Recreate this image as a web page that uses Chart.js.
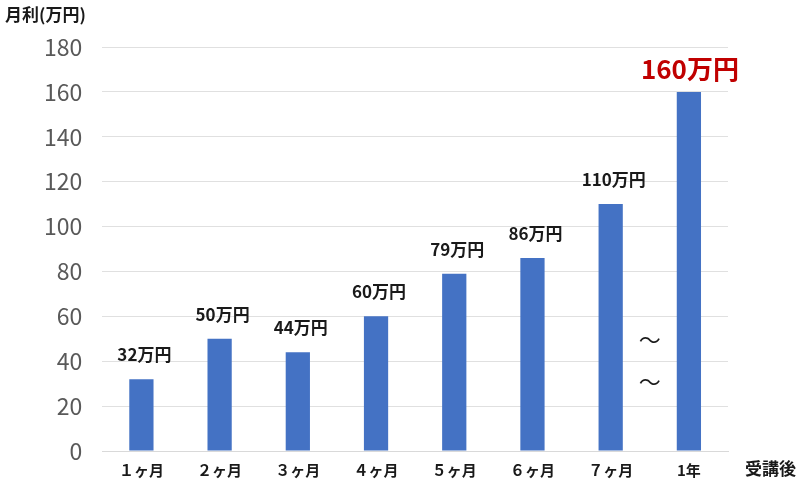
<!DOCTYPE html>
<html>
<head>
<meta charset="utf-8">
<script src="https://cdn.jsdelivr.net/npm/chart.js@4"></script>
<style>
  html, body { margin: 0; padding: 0; background: #fff; }
  #wrap { width: 800px; height: 488px; }
</style>
</head>
<body>
<div id="wrap"><canvas id="myChart"></canvas></div>
<script>
var categories = ['１ヶ月', '２ヶ月', '３ヶ月', '４ヶ月', '５ヶ月', '６ヶ月', '７ヶ月', '1年'];
var values = [32, 50, 44, 60, 79, 86, 110, 160];
var valueLabels = ['32万円', '50万円', '44万円', '60万円', '79万円', '86万円', '110万円', '160万円'];
var yTicks = [0, 20, 40, 60, 80, 100, 120, 140, 160, 180];

var jp = '"Noto Sans CJK JP", "Noto Sans", sans-serif';

var extras = {
  id: 'extras',
  afterDatasetsDraw: function(chart){
    var ctx = chart.ctx;
    var meta = chart.getDatasetMeta(0);
    var x = chart.scales.x, y = chart.scales.y;
    ctx.save();
    ctx.textAlign = 'center';
    ctx.textBaseline = 'bottom';
    meta.data.forEach(function(bar, i){
      if (i == values.length - 1) {
        ctx.fillStyle = '#c00000';
        ctx.font = 'bold 26px ' + jp;
        ctx.fillText(valueLabels[i], bar.x + 1, bar.y - 10);
      } else {
        ctx.fillStyle = '#1a1a1a';
        ctx.font = 'bold 17px ' + jp;
        ctx.fillText(valueLabels[i], bar.x + 3, bar.y - 16);
      }
    });
    // axis title and x unit
    ctx.fillStyle = '#1a1a1a';
    ctx.font = 'bold 17px ' + jp;
    ctx.textAlign = 'left';
    ctx.textBaseline = 'middle';
    ctx.fillText('月利(万円)', 5, 15);
    ctx.fillText('受講後', 745, 469);
    // break marks between 7ヶ月 and 1年
    var mx = (x.getPixelForValue(6) + x.getPixelForValue(7)) / 2;
    ctx.font = '22px ' + jp;
    ctx.textAlign = 'center';
    ctx.fillText('〜', mx, y.getPixelForValue(49.5));
    ctx.fillText('〜', mx, y.getPixelForValue(31));
    ctx.restore();
  }
};

var ctx = document.getElementById('myChart').getContext('2d');
var myChart = new Chart(ctx, {
  type: 'bar',
  data: {
    labels: categories,
    datasets: [{
      data: values,
      backgroundColor: '#4472c4',
      barPercentage: 0.31,
      categoryPercentage: 1
    }]
  },
  options: {
    responsive: true,
    maintainAspectRatio: false,
    animation: false,
    layout: { padding: { left: 24, right: 72, top: 47, bottom: 7 } },
    plugins: { legend: { display: false }, tooltip: { enabled: false } },
    scales: {
      x: {
        grid: { display: false },
        border: { color: '#d9d9d9' },
        ticks: { color: '#1a1a1a', font: { family: jp, size: 15, weight: 'bold' }, padding: 2 }
      },
      y: {
        min: 0,
        max: 180,
        afterBuildTicks: function(axis){
          axis.ticks = yTicks.map(function(v){ return { value: v }; });
        },
        grid: { color: '#e0e0e0', drawTicks: false },
        border: { display: false },
        ticks: { color: '#595959', font: { family: jp, size: 23 }, padding: 20 }
      }
    }
  },
  plugins: [extras]
});
</script>
</body>
</html>
